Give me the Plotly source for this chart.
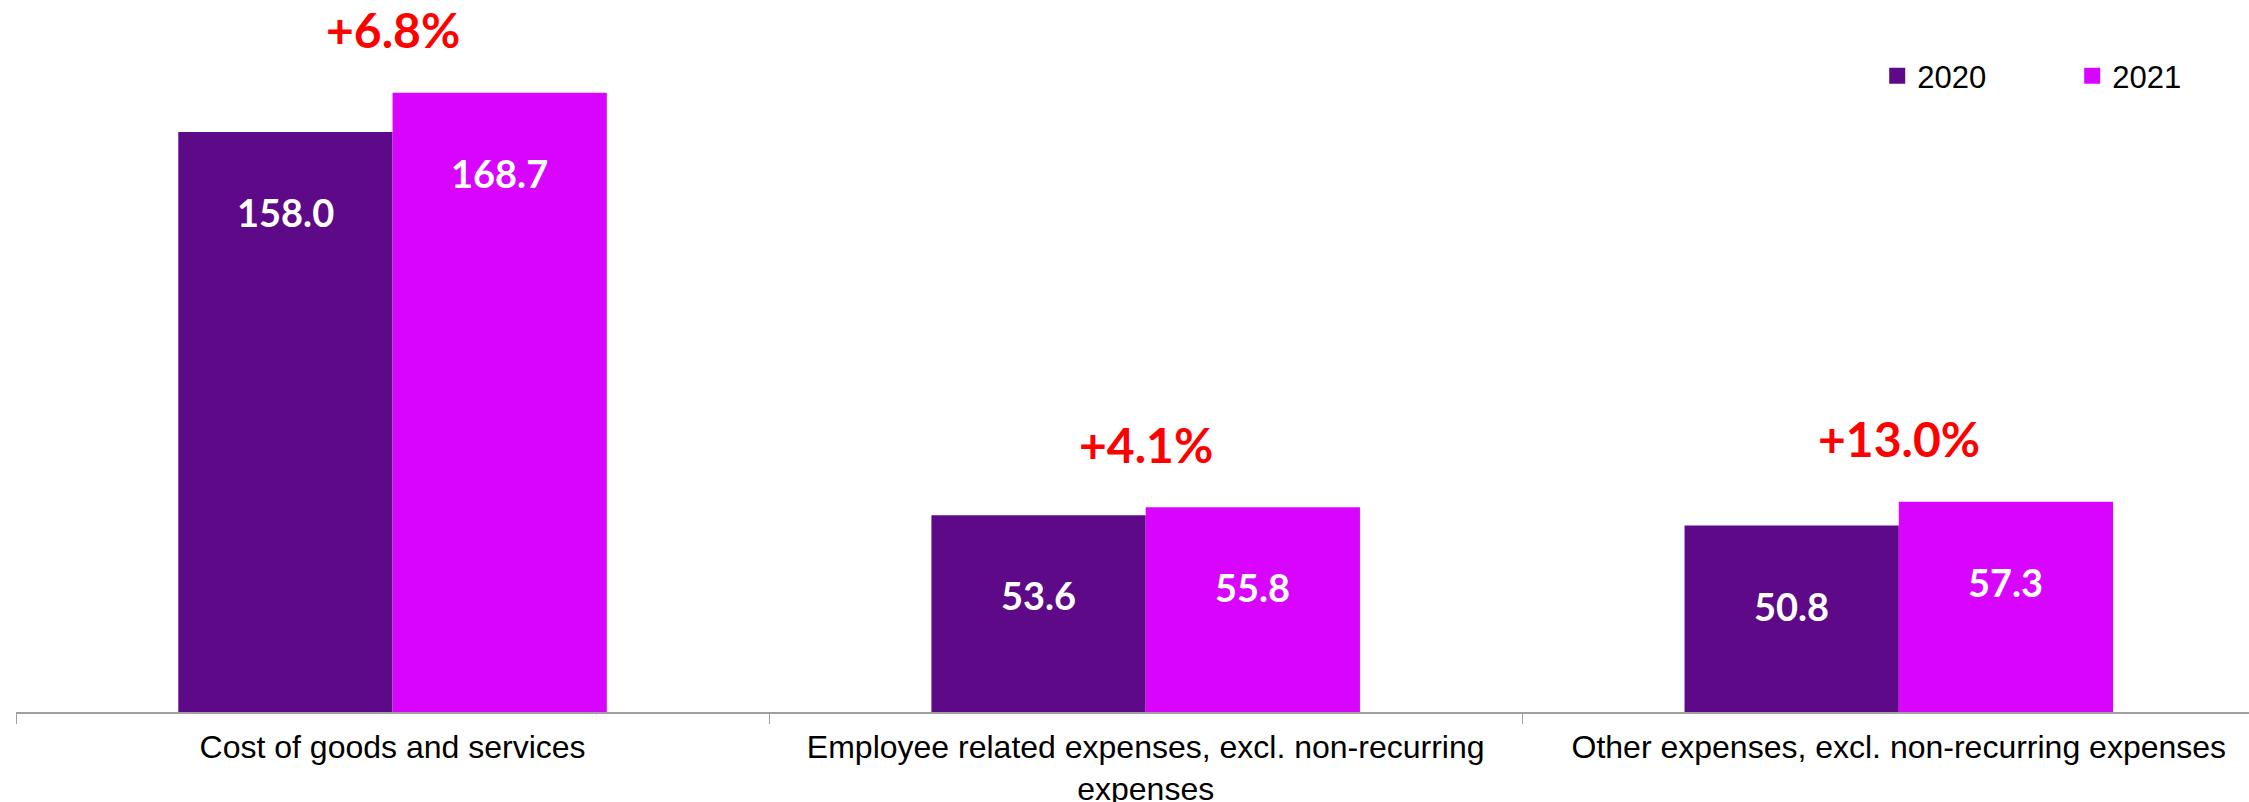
import plotly.graph_objects as go

# Operating expenses by category, two fiscal years
categories = [
    "Cost of goods and services",
    "Employee related expenses, excl. non-recurring<br>expenses",
    "Other expenses, excl. non-recurring expenses",
]
values_2020 = [158.0, 53.6, 50.8]
values_2021 = [168.7, 55.8, 57.3]
growth_labels = ["+6.8%", "+4.1%", "+13.0%"]

color_2020 = "#5E0987"
color_2021 = "#D804FD"

W, H = 2249, 802
bargap = 0.431
bar_w = (1 - bargap) / 2  # width of one bar in category units

fig = go.Figure()
fig.add_trace(go.Bar(x=categories, y=values_2020, name="2020",
                     marker=dict(color=color_2020, line=dict(width=0)),
                     showlegend=False))
fig.add_trace(go.Bar(x=categories, y=values_2021, name="2021",
                     marker=dict(color=color_2021, line=dict(width=0)),
                     showlegend=False))

# legend entries drawn as square swatches
for name, col in [("2020", color_2020), ("2021", color_2021)]:
    fig.add_trace(go.Scatter(x=[None], y=[None], mode="markers", name=name,
                             marker=dict(symbol="square", size=18, color=col)))

annotations = []
val_font = dict(family="Lato", size=38, color="white")
for i, (a, b) in enumerate(zip(values_2020, values_2021)):
    annotations.append(dict(x=i - bar_w / 2, y=a, xref="x", yref="y",
                            text=f"<b>{a:.1f}</b>", showarrow=False,
                            yanchor="middle", yshift=-80, font=val_font))
    annotations.append(dict(x=i + bar_w / 2, y=b, xref="x", yref="y",
                            text=f"<b>{b:.1f}</b>", showarrow=False,
                            yanchor="middle", yshift=-80, font=val_font))
    annotations.append(dict(x=i, y=max(a, b), xref="x", yref="y",
                            text=f"<b>{growth_labels[i]}</b>", showarrow=False,
                            yanchor="middle", yshift=63,
                            font=dict(family="Lato", size=48, color="#FF0000")))

fig.update_layout(
    width=W, height=H,
    margin=dict(l=16, r=0, t=0, b=90, autoexpand=False),
    paper_bgcolor="white", plot_bgcolor="white",
    barmode="group", bargap=bargap, bargroupgap=0,
    font=dict(family="Liberation Sans", size=32, color="black"),
    legend=dict(orientation="h", x=0.8335, xanchor="left", y=0.893, yanchor="middle",
                font=dict(family="Liberation Sans", size=31, color="black"),
                entrywidth=150, itemwidth=30, bgcolor="rgba(0,0,0,0)"),
    annotations=annotations,
    xaxis=dict(type="category", range=[-0.5, 2.465], showline=True,
               linecolor="#A0A0A0", linewidth=2, ticks="outside",
               tickson="boundaries", ticklen=10, tickcolor="#A0A0A0",
               tickwidth=1, showgrid=False, zeroline=False,
               ticklabelstandoff=6, automargin=False,
               tickfont=dict(family="Liberation Sans", size=32, color="black")),
    yaxis=dict(range=[0, 194], visible=False, showgrid=False, zeroline=False),
)

fig.write_html("out.html")
